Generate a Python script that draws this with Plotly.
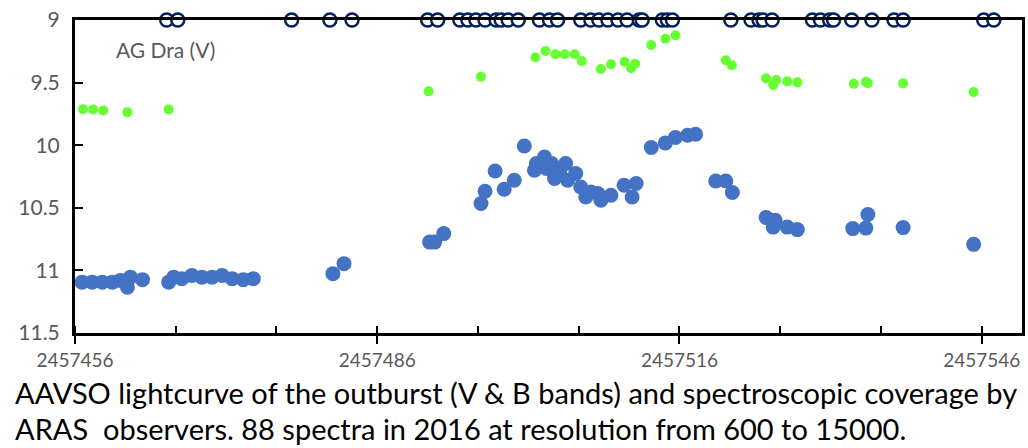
import plotly.graph_objects as go

# AAVSO photometry of AG Dra, 2016 outburst (Julian Date, magnitude)
b_jd = [2457456.7, 2457457.7, 2457458.7, 2457459.7, 2457460.5, 2457461.2, 2457461.5, 2457462.7,
        2457465.3, 2457465.8, 2457466.6, 2457467.6, 2457468.6, 2457469.6, 2457470.6, 2457471.6,
        2457472.7, 2457473.7, 2457481.6, 2457482.7,
        2457491.2, 2457491.7, 2457492.6, 2457496.3, 2457496.7, 2457497.7, 2457498.6, 2457499.6,
        2457500.6, 2457501.6, 2457501.8, 2457502.0, 2457502.6, 2457502.8, 2457503.3, 2457503.6,
        2457504.1, 2457504.7, 2457504.9, 2457505.7, 2457506.2, 2457506.7, 2457507.2, 2457507.9,
        2457508.2, 2457509.2, 2457510.5, 2457511.3, 2457511.7, 2457513.2, 2457514.6, 2457515.6,
        2457516.8, 2457517.6, 2457519.6, 2457520.6, 2457521.25, 2457524.6, 2457525.5, 2457525.3,
        2457526.7, 2457527.7, 2457533.2, 2457534.5, 2457534.7, 2457538.2, 2457545.2]
b_mag = [11.094, 11.094, 11.094, 11.094, 11.080, 11.134, 11.054, 11.074,
         11.094, 11.054, 11.066, 11.040, 11.054, 11.054, 11.040, 11.066,
         11.074, 11.066, 11.026, 10.946,
         10.774, 10.774, 10.706, 10.466, 10.368, 10.206, 10.352, 10.280,
         10.006, 10.200, 10.146, 10.170, 10.094, 10.186, 10.146, 10.266,
         10.214, 10.146, 10.280, 10.226, 10.334, 10.414, 10.374, 10.386,
         10.440, 10.400, 10.320, 10.414, 10.306, 10.018, 9.982, 9.938,
         9.920, 9.912, 10.286, 10.286, 10.378, 10.578, 10.600, 10.654,
         10.654, 10.674, 10.666, 10.662, 10.554, 10.658, 10.792]

v_jd = [2457456.8, 2457457.8, 2457458.8, 2457461.2, 2457465.3,
        2457491.1, 2457496.3, 2457501.7, 2457502.7, 2457503.7, 2457504.6, 2457505.6, 2457506.3,
        2457508.2, 2457509.2, 2457510.55, 2457511.2, 2457511.6, 2457513.2, 2457514.6, 2457515.6,
        2457520.6, 2457521.2, 2457524.6, 2457525.3, 2457525.6, 2457526.7, 2457527.7,
        2457533.3, 2457534.5, 2457534.7, 2457538.2, 2457545.2]
v_mag = [9.712, 9.714, 9.722, 9.736, 9.714,
         9.570, 9.454, 9.298, 9.248, 9.274, 9.274, 9.274, 9.328,
         9.392, 9.354, 9.334, 9.386, 9.350, 9.200, 9.150, 9.122,
         9.322, 9.362, 9.466, 9.520, 9.480, 9.490, 9.498,
         9.510, 9.494, 9.504, 9.506, 9.576]

# ARAS spectra epochs, plotted along the top edge
spec_jd = [2457465.1, 2457466.2, 2457477.5, 2457481.3, 2457483.5,
           2457491.0, 2457492.0, 2457494.2, 2457495.0, 2457495.8, 2457496.7, 2457497.8,
           2457498.3, 2457499.0, 2457500.0, 2457502.1, 2457503.1, 2457503.9,
           2457506.2, 2457507.2, 2457508.0, 2457508.9, 2457509.9, 2457510.8, 2457512.0,
           2457512.3, 2457514.3, 2457514.8, 2457515.3,
           2457521.1, 2457523.1, 2457523.9, 2457524.3, 2457525.2, 2457529.2, 2457530.0,
           2457530.9, 2457531.3, 2457533.1, 2457535.1, 2457537.3, 2457538.2,
           2457546.2, 2457547.2]
spec_mag = [9.0] * len(spec_jd)

x_ticks = [2457456, 2457486, 2457516, 2457546]
y_ticks = [9, 9.5, 10, 10.5, 11, 11.5]
x_range = [2457456, 2457550]

grey = "#595959"
font_main = "Lato, sans-serif"

fig = go.Figure()
fig.add_trace(go.Scatter(x=b_jd, y=b_mag, mode="markers", name="B",
                         marker=dict(size=15, color="#4472C4", line=dict(width=0))))
fig.add_trace(go.Scatter(x=v_jd, y=v_mag, mode="markers", name="V",
                         marker=dict(size=10, color="#66FF33", line=dict(width=0))))
fig.add_trace(go.Scatter(x=spec_jd, y=spec_mag, mode="markers", name="spectra",
                         cliponaxis=False,
                         marker=dict(size=13, color="white",
                                     line=dict(width=2.5, color="#002060"))))

fig.update_layout(
    width=1028, height=448,
    margin=dict(l=75, r=3, t=20, b=115),
    plot_bgcolor="white", paper_bgcolor="white",
    showlegend=False,
    xaxis=dict(range=x_range, tickvals=x_ticks,
               ticktext=[str(t) for t in x_ticks],
               showgrid=False, zeroline=False,
               showline=True, linecolor="black", linewidth=3, mirror=True,
               ticks="outside", ticklen=8, tickwidth=2, tickcolor="black",
               minor=dict(ticks="inside", dtick=10, tick0=2457456, ticklen=7,
                          tickwidth=2, tickcolor="black", showgrid=False),
               tickfont=dict(family=font_main, size=19, color=grey)),
    # inner half of the crossing major ticks
    xaxis2=dict(overlaying="x", side="bottom", range=x_range, tickvals=x_ticks,
                showticklabels=False, showgrid=False, zeroline=False, showline=False,
                ticks="inside", ticklen=7, tickwidth=2, tickcolor="black"),
    yaxis=dict(range=[11.5, 9], tickvals=y_ticks,
               ticktext=["9", "9.5", "10", "10.5", "11", "11.5"],
               showgrid=False, zeroline=False,
               showline=True, linecolor="black", linewidth=3, mirror=True,
               ticks="inside", ticklen=8, tickwidth=2, tickcolor="black",
               ticklabelstandoff=8,
               tickfont=dict(family=font_main, size=21, color=grey)),
    annotations=[
        dict(text="AG Dra (V)", xref="paper", yref="paper", x=0.041, y=0.905,
             xanchor="left", yanchor="middle", showarrow=False,
             font=dict(family=font_main, size=21, color=grey)),
        dict(text="AAVSO lightcurve of the outburst (V &amp; B bands) and spectroscopic coverage by",
             xref="paper", yref="paper", x=-0.065, y=-0.19,
             xanchor="left", yanchor="middle", showarrow=False,
             font=dict(family=font_main, size=29, color="black")),
        dict(text="ARAS\u00a0 observers. 88 spectra in 2016 at resolution from 600 to 15000.",
             xref="paper", yref="paper", x=-0.065, y=-0.305,
             xanchor="left", yanchor="middle", showarrow=False,
             font=dict(family=font_main, size=29, color="black")),
    ],
)

fig.write_html("out.html")
